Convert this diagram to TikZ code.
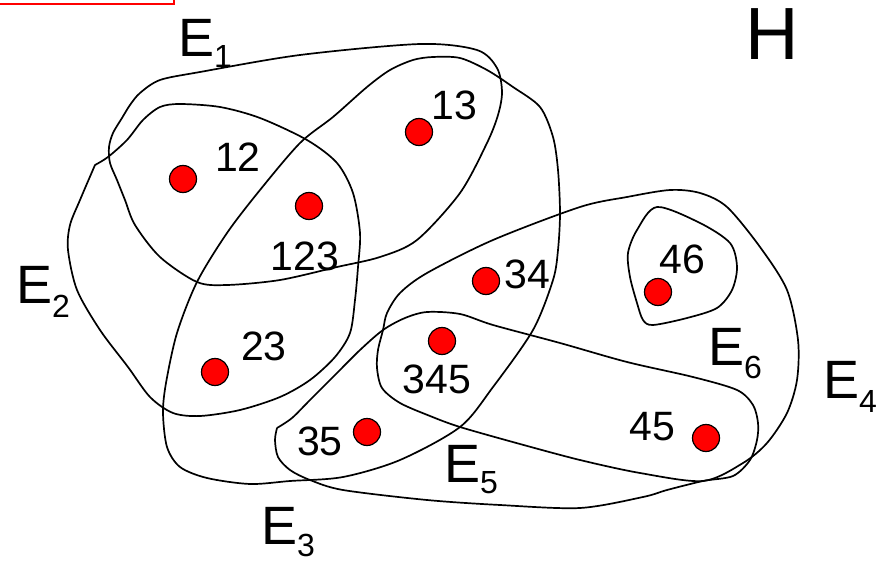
\documentclass[tikz,border=0pt]{standalone}
\usepackage{fontspec}
\setmainfont{Liberation Sans}
\newcommand\hsub[2]{\raisebox{-#1pt}{\fontsize{32}{36}\selectfont #2}}
\begin{document}
\begin{tikzpicture}[x=1pt,y=-1pt,
  edge/.style={draw=black,line width=1.7pt},
  vdot/.style={circle,fill=red,draw=black,line width=1.2pt,minimum size=27pt,inner sep=0pt},
  num/.style={inner sep=0pt,anchor=base,font=\fontsize{41}{45}\selectfont},
  ebig/.style={inner sep=0pt,anchor=base west,font=\fontsize{54}{60}\selectfont}]
\useasboundingbox (0,0) rectangle (882,561);
\fill[white] (0,0) rectangle (882,561);
% red box fragment
\draw[red,line width=2pt] (0,4) -- (174,4) -- (174,0);
% E1
\draw[edge] plot[smooth cycle] coordinates {(122,118) (130,105) (140,93) (160,80) (200,72) (300,55) (420,44) (477,50) (497,68) (502,92) (498,115) (487,143) (460,193) (417,240) (380,257) (337,267) (280,280) (227,285) (197,282) (160,257) (135,225) (125,200) (117,180) (110,163) (109,147) (113,133)};
% E2
\draw[edge] plot[smooth] coordinates {(95,165) (108,157) (127,140) (143,120) (160,107) (180,104) (220,107) (260,118) (307,140) (337,163) (353,193) (360,233) (358,267) (355,300) (350,333) (335,357) (310,380) (280,397) (240,410) (200,416) (173,413) (150,397) (128,367) (100,330) (77,290) (68,250) (70,225) (80,200) (95,165)};
% E3
\draw[edge] plot[smooth cycle] coordinates {(300,143) (333,117) (367,87) (390,70) (413,60) (433,57) (460,58) (487,70) (513,87) (540,107) (553,137) (558,170) (560,213) (558,250) (553,280) (533,330) (493,387) (460,427) (400,460) (343,477) (290,481) (250,484) (207,478) (180,467) (167,447) (163,413) (166,383) (177,333) (197,282) (227,233) (260,190)};
% E4
\draw[edge] plot[smooth cycle] coordinates {(383,330) (378,350) (377,368) (382,388) (400,403) (430,416) (460,427) (520,444) (580,460) (640,473) (703,481) (743,463) (767,443) (787,413) (797,380) (798,340) (787,290) (760,247) (727,207) (700,193) (670,190) (627,197) (580,207) (493,240) (427,273) (400,293) (387,313)};
% E5
\draw[edge] plot[smooth] coordinates {(277,428) (292,418) (310,400) (337,373) (360,350) (383,330) (405,318) (427,312) (460,314) (493,325) (560,343) (627,362) (693,377) (737,390) (753,405) (758,423) (757,440) (750,460) (733,476) (703,481) (667,490) (643,497) (580,508) (500,505) (427,500) (343,490) (310,480) (290,470) (278,457) (275,440) (277,428)};
% E6
\draw[edge] plot[smooth cycle] coordinates {(657,207) (700,223) (730,243) (737,267) (732,290) (717,308) (687,318) (653,325) (643,320) (637,303) (630,277) (628,253) (637,230)};
% vertices
\node[vdot] (v12) at (183,179) {};
\node[vdot] (v13) at (419,132) {};
\node[vdot] (v123) at (309,206) {};
\node[vdot] (v23) at (215,372) {};
\node[vdot] (v34) at (486,281) {};
\node[vdot] (v345) at (442,341) {};
\node[vdot] (v35) at (367,432) {};
\node[vdot] (v46) at (658,292) {};
\node[vdot] (v45) at (706,438) {};
% vertex labels
\node[num] (l12) at (238,172) {12};
\node[num] (l13) at (454,120) {13};
\node[num] (l123) at (305,270) {123};
\node[num] (l23) at (264,360) {23};
\node[num] (l34) at (527,288) {34};
\node[num] (l345) at (437,393) {345};
\node[num] (l35) at (320,455) {35};
\node[num] (l46) at (682,273) {46};
\node[num] (l45) at (652,440) {45};
% edge labels
\node[ebig] (e1) at (178,57) {E\hsub{11}{1}};
\node[ebig] (e2) at (16,303) {E\hsub{14}{2}};
\node[ebig] (e3) at (261,544) {E\hsub{12}{3}};
\node[ebig] (e4) at (823,398) {E\hsub{14}{4}};
\node[ebig] (e5) at (444,482) {E\hsub{11}{5}};
\node[ebig] (e6) at (708,365) {E\hsub{13}{6}};
\node[inner sep=0pt,anchor=base west,font=\fontsize{74}{80}\selectfont] (hh) at (745,60) {H};
\end{tikzpicture}
\end{document}
